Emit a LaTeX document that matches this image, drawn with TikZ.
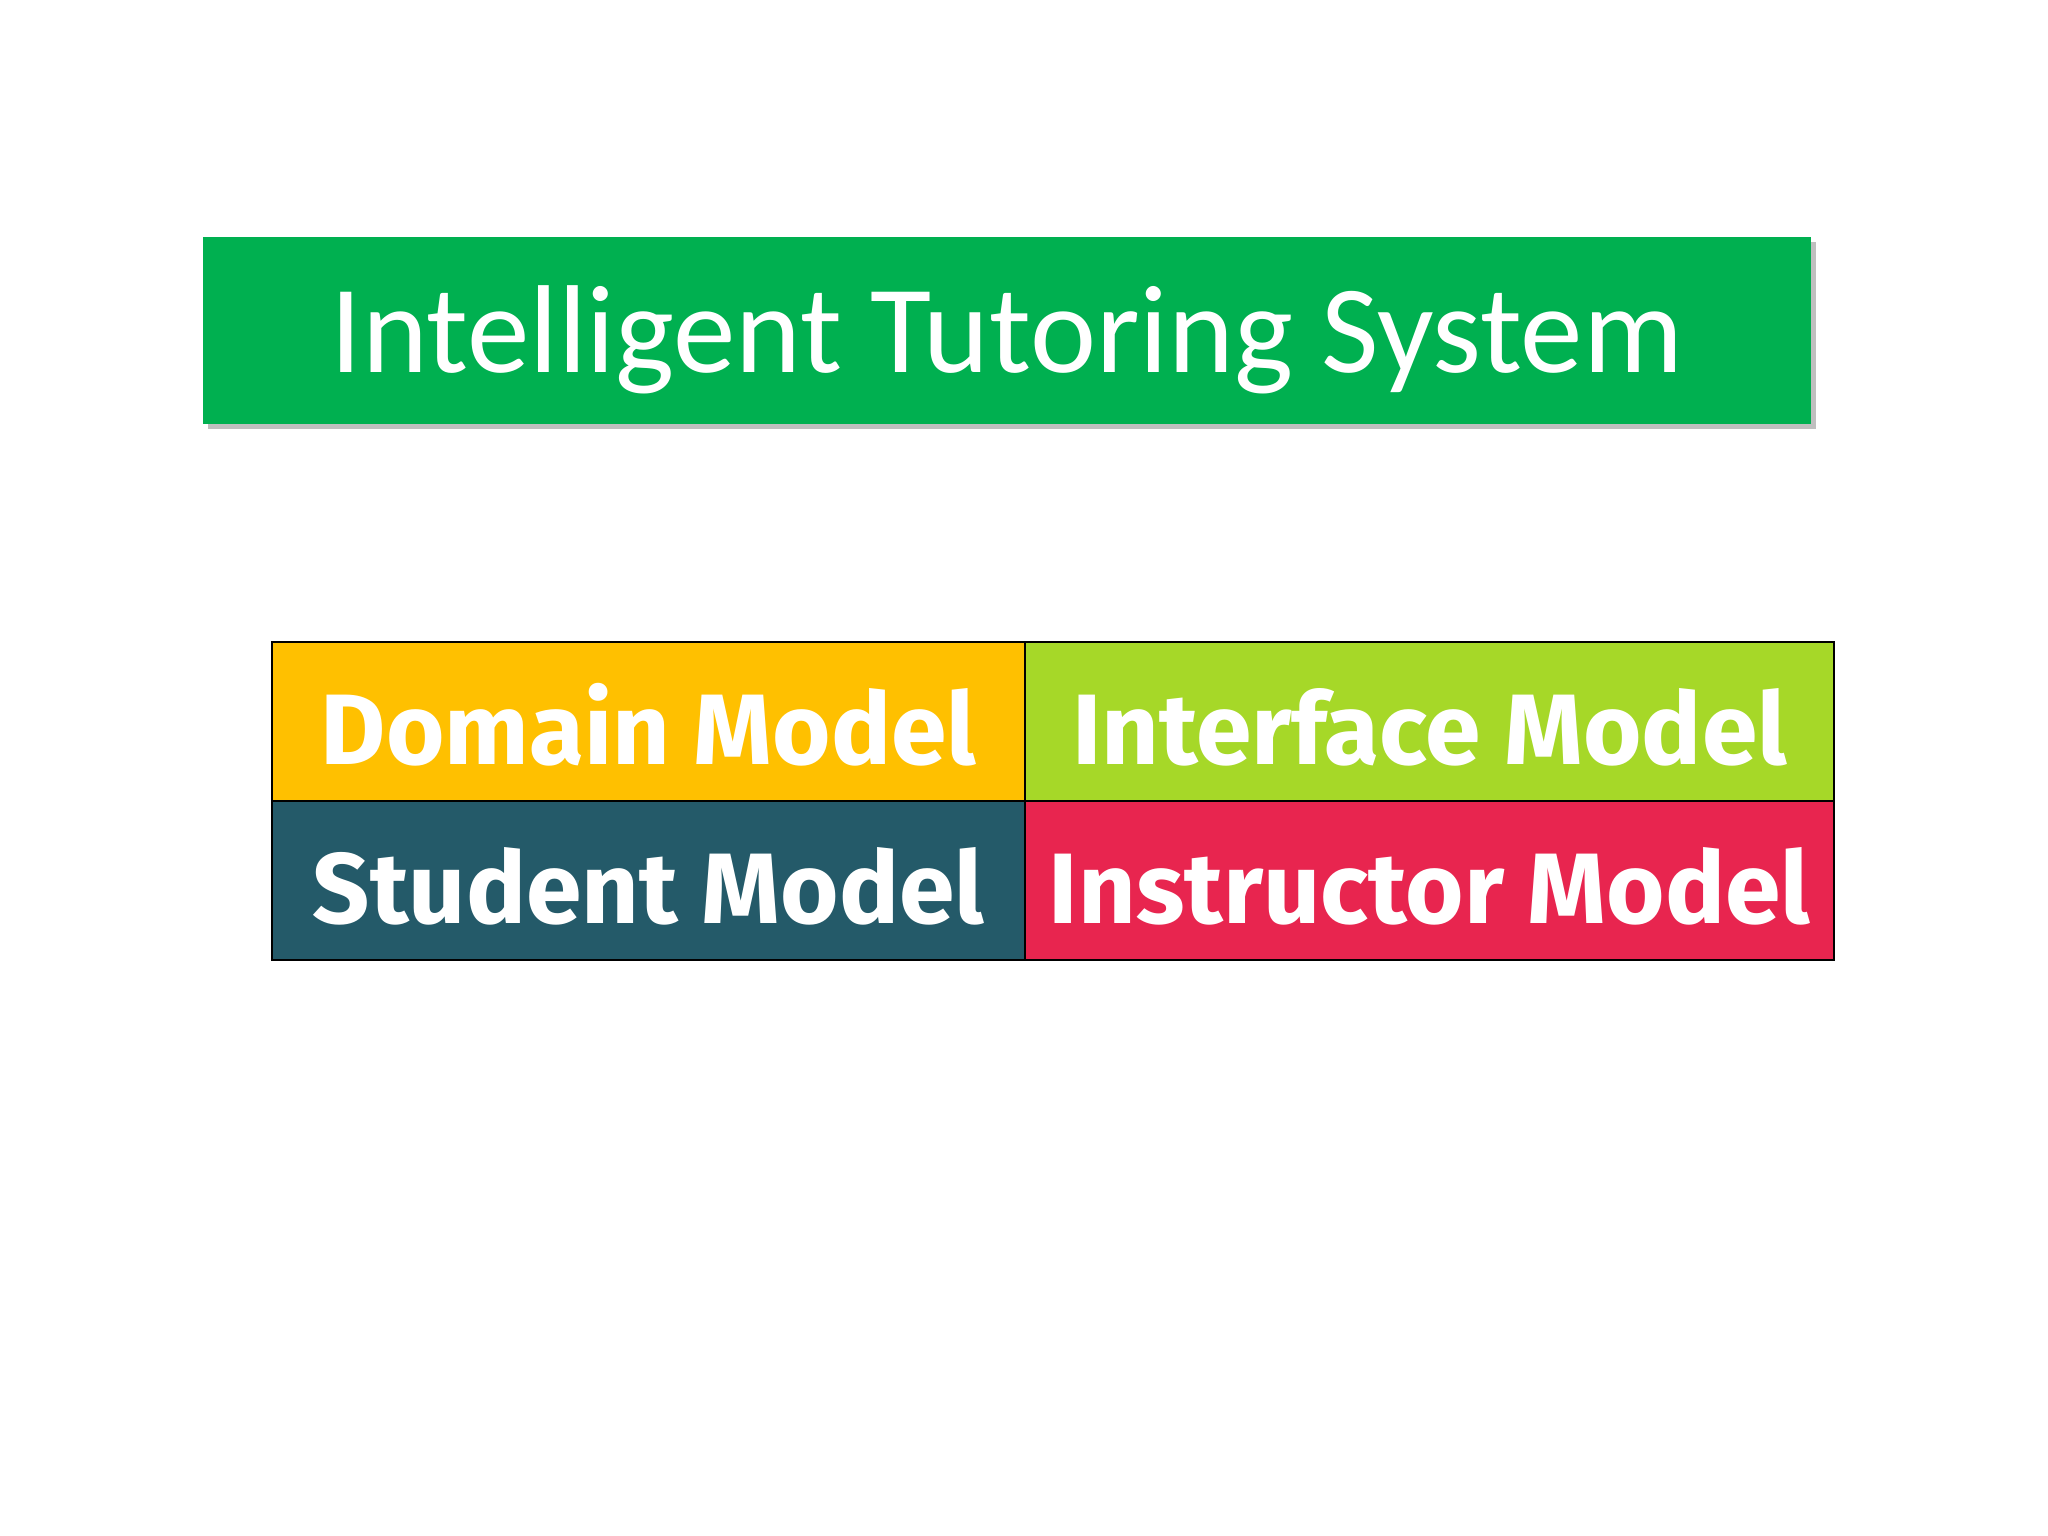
\documentclass[tikz,border=0pt]{standalone}
\usepackage{fontspec}
\usepackage{xcolor}
\usetikzlibrary{shadows}
\newfontfamily\titlefont{Carlito}
\newfontfamily\cellfont{Fira Sans}
\definecolor{itsgreen}{HTML}{00B050}
\definecolor{domyellow}{HTML}{FFC000}
\definecolor{intlime}{HTML}{A6D828}
\definecolor{stuteal}{HTML}{245A69}
\definecolor{insred}{HTML}{E8254F}

\begin{document}
\begin{tikzpicture}[
    cell/.style={draw=black, line width=0.6pt, rectangle, anchor=north west,
      minimum height=1.59cm, inner xsep=0.05cm, inner ysep=0pt,
      text height=0.86cm, text depth=0cm,
      text=white, font=\cellfont\bfseries\fontsize{28.5}{31}\selectfont},
    titlebox/.style={rectangle, fill=itsgreen, text=white, minimum width=16.08cm,
      minimum height=1.87cm, text height=0.85cm, text depth=0cm,
      font=\titlefont\fontsize{35.6}{38}\selectfont,
      drop shadow={shadow xshift=0.05cm, shadow yshift=-0.05cm, fill=black, opacity=0.25}}]
  \useasboundingbox[fill=white] (0,0) rectangle (20.48,15.36);

  % Title
  \node[titlebox] (its) at (10.07,12.055) {Intelligent Tutoring System};

  % Four models
  \node[cell, fill=domyellow, minimum width=7.53cm] (dom) at (2.71,8.95) {Domain Model};
  \node[cell, fill=intlime, minimum width=8.09cm] (int) at (10.24,8.95) {Interface Model};
  \node[cell, fill=stuteal, minimum width=7.53cm] (stu) at (2.71,7.36) {Student Model};
  \node[cell, fill=insred, minimum width=8.09cm] (ins) at (10.24,7.36) {Instructor Model};
\end{tikzpicture}
\end{document}
